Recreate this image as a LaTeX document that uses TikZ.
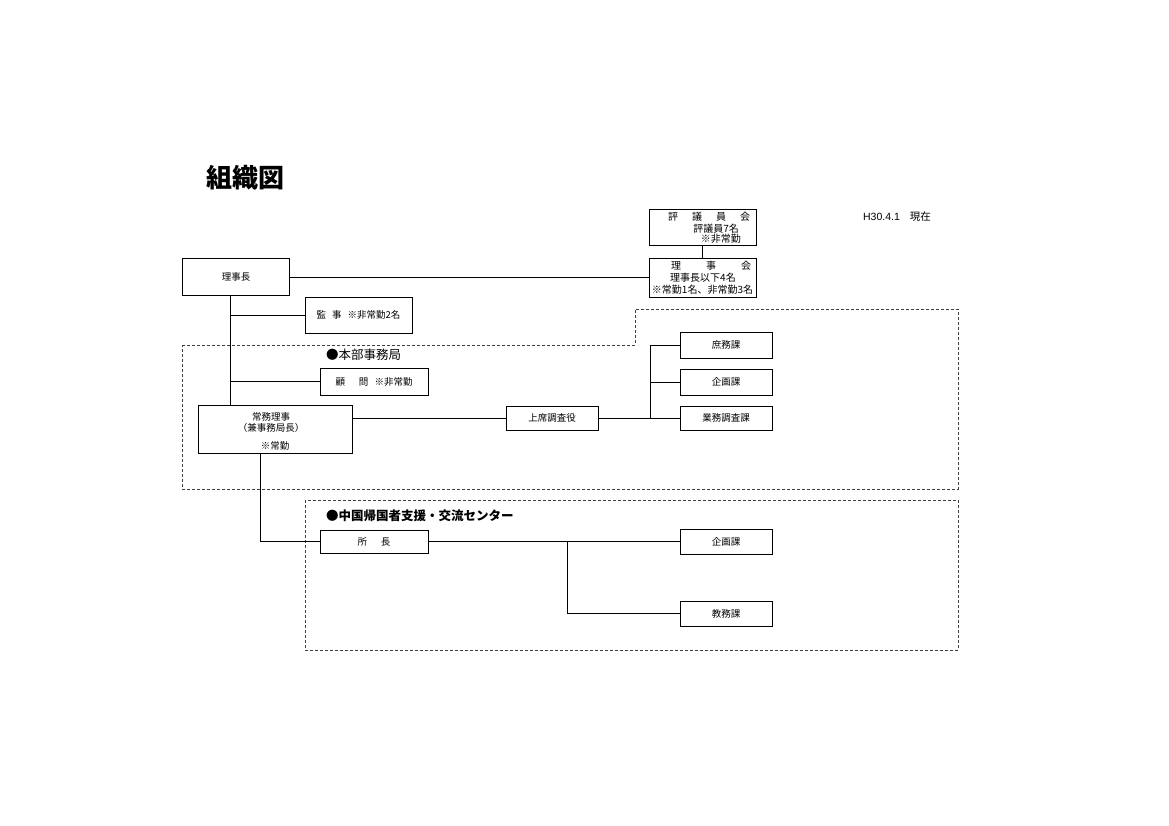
\documentclass[tikz,border=0pt]{standalone}
\usepackage{fontspec}
\setmainfont{Noto Sans CJK JP}
\newfontfamily\latinf{Liberation Sans}
\begin{document}
\begin{tikzpicture}[x=1pt,y=-1pt,
  box/.style={draw, line width=0.8pt, inner sep=0pt, align=center, font=\fontsize{9.5}{11}\selectfont},
  conn/.style={line width=0.8pt},
  region/.style={densely dashed, line width=0.7pt, draw=black!75},
  lbl/.style={inner sep=0pt, font=\fontsize{10}{11}\selectfont}]
\useasboundingbox[fill=white] (0,0) rectangle (1169,826);

% title and date
\node[inner sep=0pt, font=\fontsize{26}{28}\bfseries\selectfont] (title) at (245,178) {組織図};
\node[inner sep=0pt, font=\fontsize{10.5}{12}\selectfont] (date) at (897,217) {{\latinf H30.4.1}\hspace{10pt}現在};

% dashed regions
\draw[region] (182,345) -- (635,345) -- (635,309) -- (958,309) -- (958,489) -- (182,489) -- cycle;
\draw[region] (305,500) rectangle (958,650);
\node[anchor=west, inner sep=0pt, font=\fontsize{12.5}{14}\selectfont] (honbu) at (326,355) {●本部事務局};
\node[anchor=west, inner sep=0pt, font=\fontsize{12.5}{14}\selectfont\bfseries] (center) at (326,516) {●中国帰国者支援・交流センター};

% boxes
\node[box, minimum width=107pt, minimum height=36pt] (hyogi) at (702.5,227) {};
\node[lbl] (hyogiT) at (709,217) {評\hspace{14pt}議\hspace{14pt}員\hspace{14pt}会};
\node[lbl, anchor=east] (hyogiA) at (739,229) {評議員7名};
\node[lbl, anchor=east] (hyogiB) at (741,239) {※非常勤};

\node[box, minimum width=107pt, minimum height=39pt] (rijikai) at (702.5,277.5) {};
\node[lbl] (rijikaiT) at (711,266) {理\hspace{25pt}事\hspace{25pt}会};
\node[lbl] (rijikaiA) at (703,278) {理事長以下4名};
\node[lbl] (rijikaiB) at (702.5,290) {※常勤1名、非常勤3名};

\node[box, line width=1.6pt, minimum width=107pt, minimum height=37pt] (rijicho) at (236,277) {理事長};
\node[box, minimum width=107pt, minimum height=36pt] (kanji) at (358.5,315) {監\hspace{6pt}事\hspace{6pt}※非常勤2名};
\node[box, minimum width=108pt, minimum height=27pt] (komon) at (374,381.5) {顧\hspace{14pt}問\hspace{6pt}※非常勤};
\node[box, minimum width=154pt, minimum height=48pt] (jomu) at (275,429) {};
\node[lbl, font=\fontsize{9.5}{11}\selectfont] (jomuA) at (271,417) {常務理事};
\node[lbl, font=\fontsize{9.5}{11}\selectfont] (jomuB) at (271,428) {（兼事務局長）};
\node[lbl, font=\fontsize{9.5}{11}\selectfont] (jomuC) at (275,446) {※常勤};
\node[box, minimum width=92pt, minimum height=24pt] (joseki) at (552,418) {上席調査役};
\node[box, minimum width=92pt, minimum height=26pt] (shomu) at (726,345) {庶務課};
\node[box, minimum width=92pt, minimum height=26pt] (kikaku) at (726,382) {企画課};
\node[box, minimum width=92pt, minimum height=24pt] (gyomu) at (726,418) {業務調査課};

\node[box, minimum width=108pt, minimum height=23pt] (shocho) at (374,541.5) {所\hspace{14pt}長};
\node[box, minimum width=92pt, minimum height=25pt] (kikaku2) at (726,541.5) {企画課};
\node[box, minimum width=92pt, minimum height=25pt] (kyomu) at (726,613.5) {教務課};

% connectors
\coordinate (spine) at (230,0);
\coordinate (br1) at (650,0);
\coordinate (br2) at (567,0);
\coordinate (drop) at (260,0);
\draw[conn] (hyogi.south) -- (rijikai.north);
\draw[conn] (rijicho.east |- rijikai.west) -- (rijikai.west);
\draw[conn] (rijicho.south -| spine) -- (jomu.north -| spine);
\draw[conn] (spine |- kanji.west) -- (kanji.west);
\draw[conn] (spine |- komon.west) -- (komon.west);
\draw[conn] (jomu.east |- joseki.west) -- (joseki.west);
\draw[conn] (joseki.east) -- (br1 |- joseki.east);
\draw[conn] (br1 |- shomu.west) -- (br1 |- gyomu.west);
\draw[conn] (br1 |- shomu.west) -- (shomu.west);
\draw[conn] (br1 |- kikaku.west) -- (kikaku.west);
\draw[conn] (br1 |- gyomu.west) -- (gyomu.west);
\draw[conn] (jomu.south -| drop) |- (shocho.west);
\draw[conn] (shocho.east) -- (kikaku2.west);
\draw[conn] (br2 |- kikaku2.west) |- (kyomu.west);
\end{tikzpicture}
\end{document}
